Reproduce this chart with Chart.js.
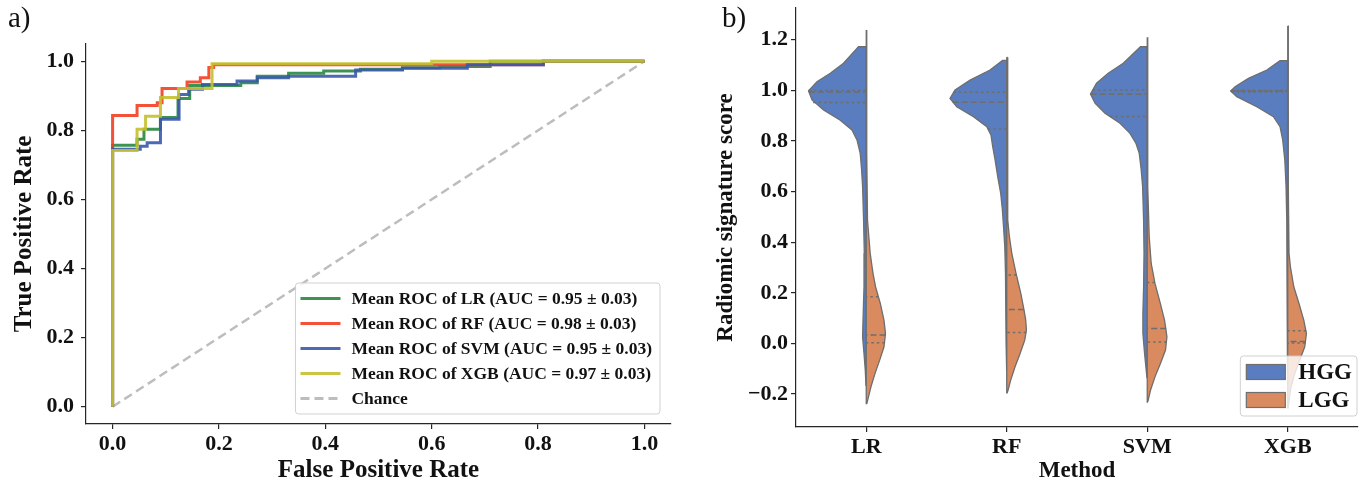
<!DOCTYPE html>
<html>
<head>
<meta charset="utf-8">
<script src="https://cdn.jsdelivr.net/npm/chart.js@4.4.0/dist/chart.umd.min.js"></script>
<style>
  html, body { margin: 0; padding: 0; background: #fff; }
  #wrap { position: relative; width: 1359px; height: 483px; overflow: hidden; }
  canvas { position: absolute; top: 0; }
  #roc { left: 0; }
  #violin { left: 690px; }
  .panel { position: absolute; top: 1px; font: 29px "Liberation Serif", serif; color: #111; }
</style>
</head>
<body>
<div id="wrap">
  <canvas id="roc" width="690" height="483"></canvas>
  <canvas id="violin" width="669" height="483"></canvas>
  <div class="panel" style="left:8px">a)</div>
  <div class="panel" style="left:722px">b)</div>
</div>
<script>
// ---- data ----
var methods = ['LR', 'RF', 'SVM', 'XGB'];
var aucText = ['0.95 \u00b1 0.03', '0.98 \u00b1 0.03', '0.95 \u00b1 0.03', '0.97 \u00b1 0.03'];
var rocColors = ['rgba(40,135,62,0.9)', 'rgba(242,62,34,0.9)', 'rgba(58,88,172,0.9)', 'rgba(196,192,48,0.9)'];

// mean ROC steps [fpr, tpr] (step happens at fpr)
var rocLR = [[0, 0], [0, 0.757], [0.046, 0.774], [0.059, 0.803], [0.090, 0.837], [0.123, 0.892], [0.145, 0.930],
  [0.241, 0.938], [0.272, 0.957], [0.331, 0.965], [0.397, 0.972], [0.466, 0.977], [0.545, 0.981], [0.615, 0.985], [0.71, 1.0], [1, 1]];
var rocRF = [[0, 0], [0, 0.843], [0.046, 0.872], [0.084, 0.880], [0.093, 0.921], [0.140, 0.940], [0.165, 0.952],
  [0.181, 0.982], [0.190, 0.990], [0.81, 1.0], [1, 1]];
var rocSVM = [[0, 0], [0, 0.745], [0.052, 0.754], [0.065, 0.764], [0.090, 0.832], [0.125, 0.904], [0.143, 0.919],
  [0.169, 0.933], [0.234, 0.943], [0.272, 0.952], [0.331, 0.957], [0.457, 0.975], [0.545, 0.980], [0.667, 0.990], [0.81, 1.0], [1, 1]];
var rocXGB = [[0, 0], [0, 0.742], [0.046, 0.803], [0.062, 0.841], [0.090, 0.895], [0.124, 0.921], [0.187, 0.993], [0.6, 1.0], [1, 1]];
var chanceLine = [[0, 0], [1, 1]];
var rocTicks = [0, 0.2, 0.4, 0.6, 0.8, 1.0];

// violin halves [score, half width in category units], top to bottom
var hggLR = [[1.172, 0.055], [1.107, 0.162], [1.067, 0.256], [1.034, 0.351], [0.998, 0.411], [0.962, 0.386], [0.922, 0.304],
  [0.882, 0.185], [0.843, 0.102], [0.804, 0.066], [0.751, 0.043], [0.685, 0.033], [0.619, 0.026], [0.487, 0.019],
  [0.356, 0.014], [0.224, 0.016], [0.092, 0.023], [0.026, 0.026], [-0.040, 0.016], [-0.106, 0.007], [-0.165, 0.002]];
var lggLR = [[1.238, 0.002], [0.751, 0.005], [0.487, 0.009], [0.356, 0.028], [0.277, 0.048], [0.224, 0.066], [0.158, 0.100],
  [0.092, 0.126], [0.039, 0.137], [-0.014, 0.126], [-0.067, 0.095], [-0.119, 0.062], [-0.172, 0.033], [-0.211, 0.016], [-0.238, 0.004]];
var hggRF = [[1.118, 0.030], [1.080, 0.119], [1.040, 0.261], [1.001, 0.368], [0.968, 0.404], [0.935, 0.356], [0.896, 0.237],
  [0.856, 0.142], [0.823, 0.112], [0.777, 0.100], [0.725, 0.083], [0.658, 0.064], [0.593, 0.043], [0.527, 0.031],
  [0.461, 0.023], [0.382, 0.014], [0.277, 0.009], [0.145, 0.007], [0.013, 0.005], [-0.110, 0.002]];
var lggRF = [[1.130, 0.002], [0.487, 0.007], [0.421, 0.019], [0.356, 0.036], [0.277, 0.066], [0.198, 0.100], [0.132, 0.123],
  [0.092, 0.135], [0.053, 0.140], [0.013, 0.128], [-0.040, 0.095], [-0.092, 0.059], [-0.145, 0.028], [-0.185, 0.009], [-0.195, 0.003]];
var hggSVM = [[1.172, 0.048], [1.107, 0.171], [1.067, 0.278], [1.028, 0.361], [0.985, 0.404], [0.949, 0.372], [0.909, 0.301],
  [0.870, 0.194], [0.830, 0.123], [0.790, 0.080], [0.751, 0.057], [0.685, 0.043], [0.619, 0.033], [0.487, 0.026],
  [0.356, 0.023], [0.224, 0.026], [0.119, 0.031], [0.039, 0.031], [-0.040, 0.019], [-0.119, 0.005], [-0.135, 0.002]];
var lggSVM = [[1.209, 0.002], [0.619, 0.005], [0.421, 0.014], [0.316, 0.028], [0.237, 0.055], [0.158, 0.093], [0.092, 0.123],
  [0.026, 0.140], [-0.026, 0.130], [-0.080, 0.093], [-0.132, 0.055], [-0.185, 0.023], [-0.224, 0.007], [-0.232, 0.002]];
var hggXGB = [[1.117, 0.055], [1.080, 0.149], [1.047, 0.280], [1.014, 0.375], [0.997, 0.406], [0.975, 0.363], [0.935, 0.221],
  [0.896, 0.102], [0.856, 0.055], [0.804, 0.036], [0.725, 0.021], [0.619, 0.012], [0.487, 0.007], [0.224, 0.005],
  [-0.040, 0.005], [-0.120, 0.002]];
var lggXGB = [[1.254, 0.002], [0.619, 0.004], [0.356, 0.009], [0.303, 0.019], [0.224, 0.043], [0.158, 0.080], [0.092, 0.114],
  [0.039, 0.133], [-0.013, 0.121], [-0.066, 0.085], [-0.119, 0.050], [-0.172, 0.023], [-0.224, 0.009], [-0.255, 0.002]];

// quartile lines [score, half width]: Q1, median, Q3
var hggQuart = [
  [[0.952, 0.378], [0.993, 0.408], [0.999, 0.411]],
  [[0.847, 0.135], [0.953, 0.385], [0.992, 0.380]],
  [[0.896, 0.265], [0.984, 0.404], [1.001, 0.390]],
  [[0.993, 0.400], [0.997, 0.406], [0.999, 0.405]]
];
var lggQuart = [
  [[0.003, 0.132], [0.033, 0.137], [0.184, 0.086]],
  [[0.043, 0.139], [0.134, 0.122], [0.270, 0.069]],
  [[0.006, 0.138], [0.059, 0.135], [0.241, 0.054]],
  [[0.002, 0.125], [0.008, 0.127], [0.050, 0.131]]
];
var scoreTicks = [-0.2, 0, 0.2, 0.4, 0.6, 0.8, 1.0, 1.2];
var groups = ['HGG', 'LGG'];
var groupColors = ['#597dbf', '#d98b5f'];
var edgeGray = '#6e6e6e';

// ---- helpers ----
Chart.defaults.font.family = '"Liberation Serif", "Times New Roman", serif';
Chart.defaults.color = '#111';

function pts(arr) { return arr.map(function (p) { return { x: p[0], y: p[1] }; }); }
// fix the axis box size and drop the label overhang padding
function fixWidth(w) { return function (s) { s.width = w; s.paddingTop = 0; s.paddingBottom = 0; }; }
function fixHeight(h) { return function (s) { s.height = h; s.paddingLeft = 0; s.paddingRight = 0; }; }
function setTicks(vals) { return function (s) { s.ticks = vals.map(function (v) { return { value: v }; }); }; }

function axisStyle() {
  return {
    grid: { drawOnChartArea: false, drawTicks: true, tickLength: 5, color: '#262626', lineWidth: 1.2 },
    border: { color: '#262626', width: 1.2 }
  };
}

// framed legend in the lower right of the plot area
function boxLegend(items, o) {
  return {
    id: 'boxLegend',
    afterDraw: function (chart) {
      var ctx = chart.ctx, a = chart.chartArea;
      ctx.save();
      ctx.font = o.font;
      var tw = 0;
      items.forEach(function (it) { tw = Math.max(tw, ctx.measureText(it.label).width); });
      var w = o.textX + tw + o.padR, h = o.rowH * items.length + 2 * o.padY;
      var x = a.right - o.right - w, y = a.bottom - o.bottom - h;
      ctx.beginPath();
      ctx.roundRect(x, y, w, h, 3);
      ctx.fillStyle = 'rgba(255,255,255,0.8)';
      ctx.fill();
      ctx.strokeStyle = 'rgba(204,204,204,0.9)';
      ctx.lineWidth = 1;
      ctx.stroke();
      items.forEach(function (it, k) {
        var cy = y + o.padY + o.rowH * (k + 0.5);
        if (it.patch) {
          ctx.fillStyle = it.color;
          ctx.fillRect(x + o.symX, cy - o.symH / 2, o.symW, o.symH);
          ctx.strokeStyle = edgeGray; ctx.lineWidth = 1.2;
          ctx.strokeRect(x + o.symX, cy - o.symH / 2, o.symW, o.symH);
        } else {
          ctx.beginPath();
          ctx.setLineDash(it.dash || []);
          ctx.strokeStyle = it.color; ctx.lineWidth = 3;
          ctx.moveTo(x + o.symX, cy); ctx.lineTo(x + o.symX + o.symW, cy);
          ctx.stroke();
          ctx.setLineDash([]);
        }
        ctx.fillStyle = '#111'; ctx.textAlign = 'left'; ctx.textBaseline = 'middle';
        ctx.fillText(it.label, x + o.textX, cy + 1);
      });
      ctx.restore();
    }
  };
}

// ---- a) ROC curves ----
var rocCurves = [rocLR, rocRF, rocSVM, rocXGB];
var rocSets = rocCurves.map(function (c, i) {
  return {
    label: 'Mean ROC of ' + methods[i] + ' (AUC = ' + aucText[i] + ')',
    data: pts(c), borderColor: rocColors[i], borderWidth: 3, stepped: 'before',
    pointRadius: 0, fill: false, order: 3 - i
  };
});
rocSets.push({ label: 'Chance', data: pts(chanceLine), borderColor: '#bdbdbd', borderWidth: 2.5,
  borderDash: [9, 5], pointRadius: 0, fill: false, order: 4 });

var rocX = axisStyle(), rocY = axisStyle();
new Chart(document.getElementById('roc'), {
  type: 'line',
  data: { datasets: rocSets },
  options: {
    responsive: false, animation: false,
    layout: { padding: { left: 0, top: 44, right: 19, bottom: 0 } },
    plugins: { legend: { display: false }, tooltip: { enabled: false } },
    scales: {
      x: Object.assign(rocX, { type: 'linear', min: -0.05, max: 1.05,
        afterBuildTicks: setTicks(rocTicks), afterFit: fixHeight(59),
        ticks: { font: { size: 22, weight: 'bold' }, padding: 2, maxRotation: 0, callback: function (v) { return v.toFixed(1); } },
        title: { display: true, text: 'False Positive Rate', font: { size: 25, weight: 'bold', lineHeight: 1 }, padding: { top: 0, bottom: 0 } } }),
      y: Object.assign(rocY, { type: 'linear', min: -0.05, max: 1.05,
        afterBuildTicks: setTicks(rocTicks), afterFit: fixWidth(86),
        ticks: { font: { size: 22, weight: 'bold' }, padding: 7, callback: function (v) { return v.toFixed(1); } },
        title: { display: true, text: 'True Positive Rate', font: { size: 25, weight: 'bold', lineHeight: 1 }, padding: { top: 12, bottom: 0 } } })
    }
  },
  plugins: [boxLegend(rocSets.map(function (d) {
    return { label: d.label, color: d.borderColor, dash: d.borderDash };
  }), { font: 'bold 17.5px "Liberation Serif", serif', rowH: 25, padY: 3, symX: 5, symW: 40, textX: 56, padR: 8, right: 11, bottom: 10 })]
});

// ---- b) split violins ----
var hggProfiles = [hggLR, hggRF, hggSVM, hggXGB];
var lggProfiles = [lggLR, lggRF, lggSVM, lggXGB];

function halfViolin(pos, prof, side, color) {
  var top = prof[0][0], bottom = prof[prof.length - 1][0];
  var data = [{ x: pos, y: top }];
  prof.forEach(function (p) { data.push({ x: pos + side * p[1], y: p[0] }); });
  data.push({ x: pos, y: bottom }, { x: pos, y: top });
  return { data: data, backgroundColor: color, borderColor: edgeGray, borderWidth: 1.3,
    fill: 'shape', pointRadius: 0, order: side < 0 ? 2 : 1 };
}

function quartileSet(idx, dash) {
  var data = [];
  methods.forEach(function (m, i) {
    [[hggQuart[i], -1], [lggQuart[i], 1]].forEach(function (q) {
      var p = q[0][idx];
      data.push({ x: i + q[1] * p[1], y: p[0] }, { x: i, y: p[0] }, { x: null, y: null });
    });
  });
  return { data: data, borderColor: edgeGray, borderWidth: 1.5, borderDash: dash,
    fill: false, pointRadius: 0, spanGaps: false, order: 0 };
}

var violinSets = [];
methods.forEach(function (m, i) {
  violinSets.push(halfViolin(i, hggProfiles[i], -1, groupColors[0]));
  violinSets.push(halfViolin(i, lggProfiles[i], 1, groupColors[1]));
});
violinSets.push(quartileSet(0, [2.5, 3]), quartileSet(1, [6, 3]), quartileSet(2, [2.5, 3]));

var vx = axisStyle(), vy = axisStyle();
new Chart(document.getElementById('violin'), {
  type: 'line',
  data: { datasets: violinSets },
  options: {
    responsive: false, animation: false,
    layout: { padding: { left: 0, top: 8, right: 1, bottom: 0 } },
    plugins: { legend: { display: false }, tooltip: { enabled: false } },
    scales: {
      x: Object.assign(vx, { type: 'linear', min: -0.5, max: 3.5,
        afterBuildTicks: setTicks([0, 1, 2, 3]), afterFit: fixHeight(56),
        ticks: { font: { size: 22, weight: 'bold' }, padding: 2, maxRotation: 0, callback: function (v) { return methods[v]; } },
        title: { display: true, text: 'Method', font: { size: 23, weight: 'bold', lineHeight: 1 }, padding: { top: 0, bottom: 0 } } }),
      y: Object.assign(vy, { type: 'linear', min: -0.33, max: 1.325,
        afterBuildTicks: setTicks(scoreTicks), afterFit: fixWidth(106),
        ticks: { font: { size: 22, weight: 'bold' }, padding: 3,
          callback: function (v) { return (v < 0 ? '\u2212' : '') + Math.abs(v).toFixed(1); } },
        title: { display: true, text: 'Radiomic signature score', font: { size: 23, weight: 'bold', lineHeight: 1 }, padding: { top: 25, bottom: 0 } } })
    }
  },
  plugins: [boxLegend(groups.map(function (g, k) {
    return { label: g, color: groupColors[k], patch: true };
  }), { font: 'bold 23px "Liberation Serif", serif', rowH: 28, padY: 2, symX: 6, symW: 39, symH: 15, textX: 58, padR: 5, right: 1, bottom: 11 })]
});
</script>
</body>
</html>
